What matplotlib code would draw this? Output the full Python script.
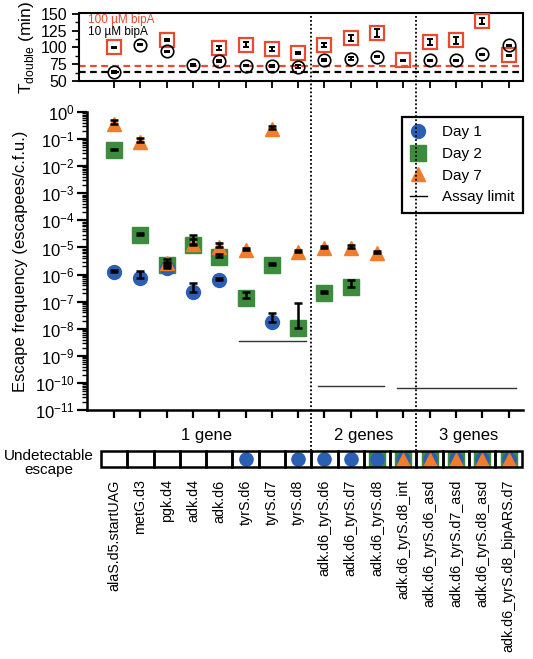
import numpy as np
import matplotlib
matplotlib.use("Agg")
import matplotlib.pyplot as plt
from matplotlib.lines import Line2D
from matplotlib.patches import Rectangle
from matplotlib.ticker import LogLocator, MultipleLocator, NullFormatter
import matplotlib.transforms as mtransforms

plt.rcParams["font.family"] = ["Liberation Sans", "DejaVu Sans"]
plt.rcParams["mathtext.fontset"] = "custom"
plt.rcParams["mathtext.rm"] = "Liberation Sans"

nan = np.nan

categories = ["alaS.d5.startUAG", "metG.d3", "pgk.d4", "adk.d4", "adk.d6",
              "tyrS.d6", "tyrS.d7", "tyrS.d8",
              "adk.d6_tyrS.d6", "adk.d6_tyrS.d7", "adk.d6_tyrS.d8", "adk.d6_tyrS.d8_int",
              "adk.d6_tyrS.d6_asd", "adk.d6_tyrS.d7_asd", "adk.d6_tyrS.d8_asd",
              "adk.d6_tyrS.d8_bipARS.d7"]

# doubling time (min)
tdouble_100 = [100, nan, 111.5, nan, 99, 104, 98, 91.5, 104, 114, 121.5, 80.5, 108, 110.5, 139, 88]
tdouble_100_err = [1, nan, 1.5, nan, 3, 4, 3, 2, 3, 4, 6, 1, 5, 5, 5, 1]
tdouble_10 = [64, 104, 94, 74, 79, 73, 72, 71.5, 81, 83, 86, nan, 80.5, 80.5, 89.5, 103]
tdouble_10_err = [1.5, 1, 1, 1.5, 1.5, 1, 1.5, 2, 1, 2, 1, nan, 1, 1, 1, 1]
wt_100 = 73
wt_10 = 64

# escape frequency
day1 = [1.25e-6, 7.4e-7, 1.7e-6, 2.3e-7, 6.3e-7, nan, 1.8e-8, nan,
        nan, nan, nan, nan, nan, nan, nan, nan]
day1_hi = [1.5e-6, 1.4e-6, 2.1e-6, 5.0e-7, 7.2e-7, nan, 3.8e-8, nan,
           nan, nan, nan, nan, nan, nan, nan, nan]
day2 = [4.0e-2, 2.9e-5, 2.3e-6, 1.25e-5, 4.5e-6, 1.35e-7, 2.3e-6, 1.07e-8,
        2.0e-7, 3.4e-7, nan, nan, nan, nan, nan, nan]
day2_hi = [4.3e-2, 3.4e-5, 3.0e-6, 2.0e-5, 5.5e-6, 2.3e-7, 2.6e-6, 9.0e-8,
           2.4e-7, 6.5e-7, nan, nan, nan, nan, nan, nan]
day7 = [0.36, 0.08, 2.7e-6, 1.35e-5, 1.05e-5, 8.0e-6, 0.23, 6.8e-6,
        9.5e-6, 9.5e-6, 6.3e-6, nan, nan, nan, nan, nan]
day7_hi = [0.5, 0.11, 3.6e-6, 2.9e-5, 1.5e-5, 9.5e-6, 0.3, 8.0e-6,
           1.1e-5, 1.2e-5, 7.5e-6, nan, nan, nan, nan, nan]

# assay limits (start, end, value)
limit_start = [4.75, 7.75, 10.75]
limit_end = [7.3, 10.25, 15.3]
limit_value = [3.5e-9, 8e-11, 6.6e-11]

# undetectable escape flags
undet_day1 = [0, 0, 0, 0, 0, 1, 0, 1, 1, 1, 1, 1, 1, 1, 1, 1]
undet_day2 = [0, 0, 0, 0, 0, 0, 0, 0, 0, 0, 1, 1, 1, 1, 1, 1]
undet_day7 = [0, 0, 0, 0, 0, 0, 0, 0, 0, 0, 0, 1, 1, 1, 1, 1]

groups = ["1 gene", "2 genes", "3 genes"]
group_centers = [3.5, 9.5, 13.5]
group_breaks = [7.5, 11.5]

blue = "#2b5fb4"
green = "#3d8b3d"
orange = "#f07c2c"
red = "#ea4a2e"

W, H = 533, 659
fig = plt.figure(figsize=(W / 100, H / 100), dpi=100)

def rect(l, t, r, b):
    return [l / W, 1 - b / H, (r - l) / W, (b - t) / H]

x = np.arange(len(categories))

# ---- top panel: doubling time
ax_t = fig.add_axes(rect(79, 13, 523, 81))
ax_t.set_xlim(-1.33, 15.55)
ax_t.set_ylim(50, 151)
ax_t.axhline(wt_100, color=red, ls=(0, (3, 2)), lw=1.6, zorder=1)
ax_t.axhline(wt_10, color="black", ls=(0, (3, 2)), lw=1.6, zorder=1)
ax_t.plot(x, tdouble_100, "s", ms=10, mfc="none", mec=red, mew=1.6, zorder=3)
ax_t.plot(x, tdouble_10, "o", ms=9, mfc="none", mec="black", mew=1.2, zorder=3)
ax_t.errorbar(x, tdouble_100, yerr=tdouble_100_err, fmt="none", ecolor="black",
              elinewidth=1.4, capsize=2.5, capthick=1.4, zorder=4)
ax_t.errorbar(x, tdouble_10, yerr=tdouble_10_err, fmt="none", ecolor="black",
              elinewidth=1.4, capsize=2.5, capthick=1.4, zorder=4)
ax_t.set_yticks([50, 75, 100, 125, 150])
ax_t.yaxis.set_minor_locator(MultipleLocator(12.5))
ax_t.set_xticks(x)
ax_t.set_xticklabels([])
ax_t.tick_params(axis="both", which="major", direction="out", length=5, width=1.3, labelsize=11.5)
ax_t.tick_params(axis="y", which="minor", direction="out", length=3, width=1.0)
for sp in ax_t.spines.values():
    sp.set_linewidth(1.5)
ax_t.set_ylabel("T$_{\\mathrm{double}}$ (min)", fontsize=12.5, labelpad=3)
ax_t.text(0.02, 0.9, "100 µM bipA", color=red, fontsize=8.5, transform=ax_t.transAxes, va="center")
ax_t.text(0.02, 0.72, "10 µM bipA", color="black", fontsize=8.5, transform=ax_t.transAxes, va="center")

# ---- main panel: escape frequency
ax = fig.add_axes(rect(87, 112, 523, 410))
ax.set_xlim(-1.03, 15.55)
ax.set_yscale("log")
ax.set_ylim(1e-11, 1e0)

def hi_err(vals, his):
    v = np.array(vals)
    h = np.array(his)
    return np.vstack([np.zeros_like(v), h - v])

ax.plot(x, day2, "s", color=green, ms=12, ls="none", zorder=3)
ax.plot(x, day1, "o", color=blue, ms=10, ls="none", zorder=4)
ax.plot(x, day7, "^", color=orange, ms=10.5, ls="none", zorder=5)
for vals, his in [(day1, day1_hi), (day2, day2_hi), (day7, day7_hi)]:
    ax.errorbar(x, vals, yerr=hi_err(vals, his), fmt="none", ecolor="black",
                elinewidth=1.8, capsize=3, capthick=1.8, zorder=6)
for s, e, v in zip(limit_start, limit_end, limit_value):
    ax.plot([s, e], [v, v], color="#333333", lw=1.0, zorder=2)

ax.spines["top"].set_visible(False)
ax.spines["right"].set_visible(False)
ax.spines["left"].set_linewidth(1.8)
ax.spines["bottom"].set_linewidth(1.8)
ax.yaxis.set_major_locator(LogLocator(base=10, numticks=20))
ax.yaxis.set_minor_locator(LogLocator(base=10, subs=np.arange(2, 10), numticks=20))
ax.yaxis.set_minor_formatter(NullFormatter())
ax.set_xticks(x)
ax.set_xticklabels([])
ax.tick_params(axis="y", which="major", direction="out", length=7, width=1.6, labelsize=12, pad=2)
ax.tick_params(axis="y", which="minor", direction="out", length=3.5, width=1.0)
ax.tick_params(axis="x", which="major", direction="out", length=6, width=1.6)
ax.set_ylabel("Escape frequency (escapees/c.f.u.)", fontsize=12, labelpad=5)
for c, g in zip(group_centers, groups):
    ax.text(c, -0.085, g, transform=ax.get_xaxis_transform(), ha="center", va="center", fontsize=12)

handles = [Line2D([], [], marker="o", color=blue, ls="none", ms=10),
           Line2D([], [], marker="s", color=green, ls="none", ms=12),
           Line2D([], [], marker="^", color=orange, ls="none", ms=10.5),
           Line2D([], [], color="black", lw=1.0)]
leg = ax.legend(handles, ["Day 1", "Day 2", "Day 7", "Assay limit"], loc="upper right",
                bbox_to_anchor=(1.0, 0.983), borderaxespad=0, fancybox=False,
                edgecolor="black", framealpha=1, fontsize=11, handlelength=1.1,
                handletextpad=1.0, labelspacing=0.5, borderpad=0.55)
leg.get_frame().set_linewidth(1.6)

# ---- undetectable escape row
ax_u = fig.add_axes(rect(87, 451, 523, 467))
ax_u.set_xlim(-1.03, 15.55)
ax_u.set_ylim(0, 1)
for sp in ax_u.spines.values():
    sp.set_visible(False)
ax_u.set_yticks([])
for i in range(len(categories)):
    ax_u.add_patch(Rectangle((i - 0.5, 0), 1, 1, fill=False, ec="black", lw=1.8, zorder=5, clip_on=False))
xu = np.array(x, dtype=float)
ax_u.plot(xu[np.array(undet_day2) == 1], np.full(sum(undet_day2), 0.5), "s", color=green, ms=11.5, zorder=2)
ax_u.plot(xu[np.array(undet_day1) == 1], np.full(sum(undet_day1), 0.5), "o", color=blue, ms=9.5, zorder=3)
ax_u.plot(xu[np.array(undet_day7) == 1], np.full(sum(undet_day7), 0.45), "^", color=orange, ms=9.5, zorder=4)
ax_u.set_xticks(x)
ax_u.set_xticklabels(categories, rotation=90, fontsize=10.3)
ax_u.tick_params(axis="x", length=0, pad=9)
fig.text(49 / W, 1 - 463 / H, "Undetectable\nescape", ha="center", va="center",
         fontsize=11, linespacing=0.95)

# group separators across the whole figure
trans = mtransforms.blended_transform_factory(ax.transData, fig.transFigure)
for b in group_breaks:
    fig.add_artist(Line2D([b, b], [1 - 12 / H, 1 - 450 / H], transform=trans,
                          color="black", ls=(0, (1, 1.2)), lw=1.3, zorder=10))

fig.savefig("out.png", dpi=100)
